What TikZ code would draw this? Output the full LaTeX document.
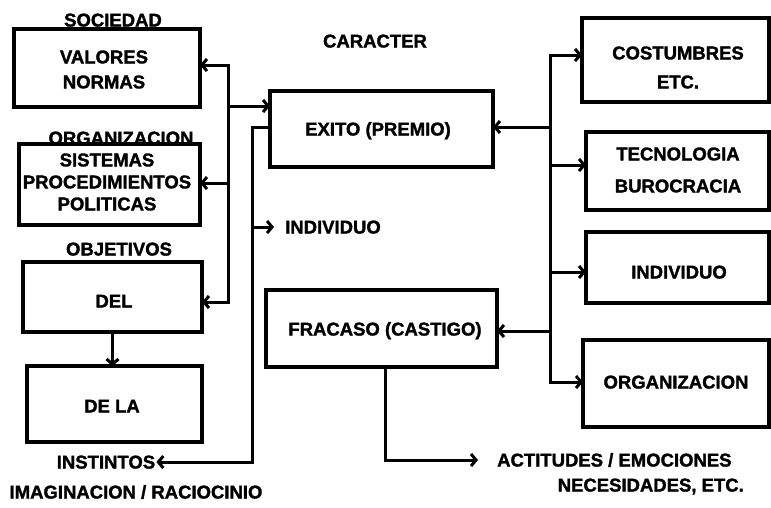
\documentclass[tikz,border=0pt]{standalone}
\usepackage{fontspec}
\setmainfont{Liberation Sans}[BoldFeatures={FakeBold=1.6}]
\usetikzlibrary{arrows.meta}
\begin{document}
\begin{tikzpicture}[x=1pt,y=-1pt,
  box/.style={draw, line width=3.2pt, inner sep=0pt, outer sep=0pt},
  lbl/.style={font=\bfseries\fontsize{18.5}{22}\selectfont, inner sep=0pt, align=center},
  one/.style={text height=13pt, text depth=0pt},
  ln/.style={line width=3pt},
  arr/.style={line width=3pt, -{Straight Barb[length=5pt,width=12pt]}},
  arrs/.style={line width=3pt, {Straight Barb[length=5pt,width=12pt]}-{Straight Barb[length=5pt,width=12pt]}}]
\useasboundingbox (0,0) rectangle (771,507);
% left column
\node[box,minimum width=186pt,minimum height=78pt] (b1) at (107,68) {};
\node[lbl] (t1) at (104,69.5) {VALORES\\[3pt]NORMAS};
\node[lbl,one] (h1) at (113,20) {SOCIEDAD};
\node[box,minimum width=181pt,minimum height=81pt] (b2) at (109.5,184.5) {};
\node[lbl] (t2) at (107,182) {SISTEMAS\\PROCEDIMIENTOS\\POLITICAS};
\node[lbl,one] (h2) at (121,138) {ORGANIZACION};
\node[box,minimum width=179pt,minimum height=70pt] (b3) at (112.5,297) {};
\node[lbl,one] (t3) at (114,301) {DEL};
\node[lbl,one] (h3) at (119,249) {OBJETIVOS};
\node[box,minimum width=175pt,minimum height=76pt] (b4) at (114.5,404) {};
\node[lbl,one] (t4) at (112,406) {DE LA};
\node[lbl,one] (inst) at (106,462) {INSTINTOS};
\node[lbl,one] (imag) at (136,492) {IMAGINACION / RACIOCINIO};
% middle column
\node[lbl,one] (car) at (375,41) {CARACTER};
\node[box,minimum width=223pt,minimum height=76pt] (exito) at (381.5,129) {};
\node[lbl,one] (te) at (378,129) {EXITO (PREMIO)};
\node[lbl,one,anchor=west] (indiv) at (285,227) {INDIVIDUO};
\node[box,minimum width=231pt,minimum height=77pt] (frac) at (381.5,328.5) {};
\node[lbl,one] (tf) at (385,329) {FRACASO (CASTIGO)};
\node[lbl,one,anchor=west] (act) at (497,460) {ACTITUDES / EMOCIONES};
\node[lbl,one,anchor=east] (nec) at (744,485) {NECESIDADES, ETC.};
% right column
\node[box,minimum width=187pt,minimum height=84pt] (cost) at (675.5,60) {};
\node[lbl] (tc) at (678,67.5) {COSTUMBRES\\[7pt]ETC.};
\node[box,minimum width=183pt,minimum height=78pt] (tec) at (677.5,171) {};
\node[lbl] (tt) at (678,170) {TECNOLOGIA\\[10pt]BUROCRACIA};
\node[box,minimum width=183pt,minimum height=71pt] (ind) at (677.5,267.5) {};
\node[lbl,one] (ti) at (679,272) {INDIVIDUO};
\node[box,minimum width=186pt,minimum height=87pt] (org) at (676,383.5) {};
\node[lbl,one] (to) at (676,382) {ORGANIZACION};
% left connectors
\coordinate (lv1) at (228,65);
\coordinate (lv2) at (228,106);
\coordinate (lv3) at (228,183);
\coordinate (lv4) at (228,302);
\draw[arrs] (b1.east |- lv1) -- (lv1) -- (lv4) -- (b3.east |- lv4);
\draw[arr] (lv3) -- (b2.east |- lv3);
\draw[arr] (lv2) -- (exito.west |- lv2);
\draw[arr] (b3.south) -- (b4.north -| b3.south);
% second left line
\coordinate (m1) at (252,127);
\coordinate (m2) at (252,227);
\coordinate (m3) at (252,462);
\draw[arr, shorten >=1pt] (exito.west |- m1) -- (m1) -- (m3) -- (inst.east);
\draw[arr, shorten >=11pt] (m2) -- (indiv.west);
% right connectors
\coordinate (r1) at (550,55);
\coordinate (r2) at (550,127);
\coordinate (r3) at (550,165);
\coordinate (r4) at (550,272);
\coordinate (r5) at (550,331);
\coordinate (r6) at (550,382);
\draw[arrs] (cost.west |- r1) -- (r1) -- (r6) -- (org.west |- r6);
\draw[arr] (r2) -- (exito.east |- r2);
\draw[arr] (r3) -- (tec.west |- r3);
\draw[arr] (r4) -- (ind.west |- r4);
\draw[arr] (r5) -- (frac.east |- r5);
% bottom
\coordinate (f1) at (385,460);
\draw[arr, shorten >=19pt] (frac.south -| f1) -- (f1) -- (act.west);
\end{tikzpicture}
\end{document}
